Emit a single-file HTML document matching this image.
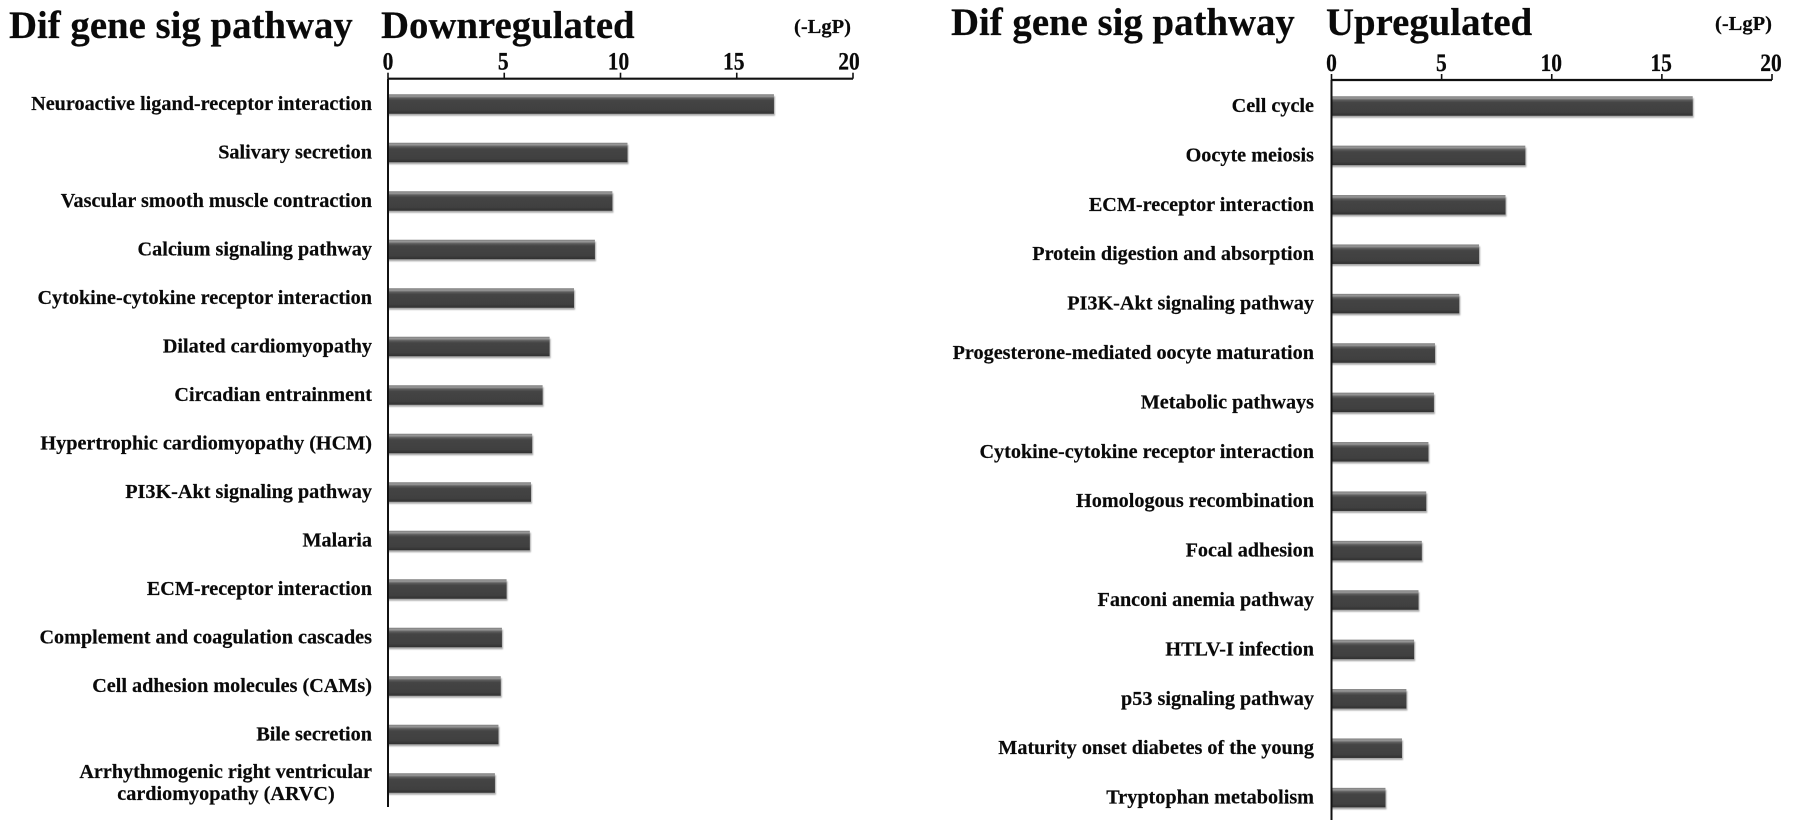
<!DOCTYPE html>
<html lang="en">
<head>
<meta charset="utf-8">
<title>Dif gene sig pathway</title>
<style>
  html, body { margin: 0; padding: 0; background: #fff; }
  #stage { display: block; width: 1795px; height: 833px; }
  text { font-family: "Liberation Serif", serif; font-weight: bold; fill: #0a0a0a; stroke: #0a0a0a; stroke-width: 0.2px; }
</style>
</head>
<body>
<svg id="stage" xmlns="http://www.w3.org/2000/svg" width="1795" height="833" viewBox="0 0 1795 833">
  <defs>
    <linearGradient id="barFill" x1="0" y1="0" x2="0" y2="1">
      <stop offset="0" stop-color="#7d7d7d"/>
      <stop offset="0.1" stop-color="#999999"/>
      <stop offset="0.2" stop-color="#5c5c5c"/>
      <stop offset="0.32" stop-color="#444444"/>
      <stop offset="0.82" stop-color="#404040"/>
      <stop offset="1" stop-color="#303030"/>
    </linearGradient>
    <filter id="soft" x="-2%" y="-30%" width="104%" height="170%">
      <feGaussianBlur stdDeviation="0.7"/>
    </filter>
  </defs>
  <g id="leftPanel"></g>
  <g id="rightPanel"></g>
</svg>
<script>
const tickValues = [0, 5, 10, 15, 20];

const downCategories = [
  "Neuroactive ligand-receptor interaction", "Salivary secretion",
  "Vascular smooth muscle contraction", "Calcium signaling pathway",
  "Cytokine-cytokine receptor interaction", "Dilated cardiomyopathy",
  "Circadian entrainment", "Hypertrophic cardiomyopathy (HCM)",
  "PI3K-Akt signaling pathway", "Malaria", "ECM-receptor interaction",
  "Complement and coagulation cascades", "Cell adhesion molecules (CAMs)",
  "Bile secretion", "Arrhythmogenic right ventricular|cardiomyopathy (ARVC)"
];
const downValues = [16.6, 10.3, 9.65, 8.9, 8.0, 6.95, 6.65, 6.2, 6.15, 6.1, 5.1, 4.9, 4.85, 4.75, 4.6];

const upCategories = [
  "Cell cycle", "Oocyte meiosis", "ECM-receptor interaction",
  "Protein digestion and absorption", "PI3K-Akt signaling pathway",
  "Progesterone-mediated oocyte maturation", "Metabolic pathways",
  "Cytokine-cytokine receptor interaction", "Homologous recombination",
  "Focal adhesion", "Fanconi anemia pathway", "HTLV-I infection",
  "p53 signaling pathway", "Maturity onset diabetes of the young",
  "Tryptophan metabolism"
];
const upValues = [16.4, 8.8, 7.9, 6.7, 5.8, 4.7, 4.65, 4.4, 4.3, 4.1, 3.95, 3.75, 3.4, 3.2, 2.45];

const NS = "http://www.w3.org/2000/svg";

function make(tag, attrs, parent, content) {
  const el = document.createElementNS(NS, tag);
  for (const k in attrs) el.setAttribute(k, attrs[k]);
  if (content !== undefined) el.textContent = content;
  parent.appendChild(el);
  return el;
}

function slug(s) {
  return s.toLowerCase().replace(/[^a-z0-9]+/g, "-").replace(/^-|-$/g, "");
}

function drawPanel(root, cfg, categories, values) {
  const maxTick = tickValues[tickValues.length - 1];
  const xScale = v => cfg.x0 + (v / maxTick) * (cfg.x1 - cfg.x0);
  const yScale = i => cfg.firstY + i * cfg.stepY;

  const title = make("text", { x: cfg.titleX, y: cfg.titleY, "font-size": 38.8 }, root, "Dif gene sig pathway");
  
  

  const sub = make("text", { x: cfg.subX, y: cfg.titleY, "font-size": 38.8 }, root, cfg.subtitle);
  
  

  const unit = make("text", { x: cfg.unitX, y: cfg.unitY, "font-size": 20.5 }, root, "(-LgP)");
  
  

  values.forEach((v, i) => {
    const yc = yScale(i);
    const h = 19.5;
    const shadow = make("rect", {
      x: xScale(0), y: yc - h / 2 + 2, width: xScale(v) - xScale(0) + 1, height: h,
      fill: "#a8a8a8", filter: "url(#soft)"
    }, root);
    
    

    const bar = make("rect", {
      x: xScale(0), y: yc - h / 2, width: xScale(v) - xScale(0), height: h,
      fill: "url(#barFill)"
    }, root);
    
    

    const lines = categories[i].split("|");
    if (lines.length === 1) {
      const t = make("text", {
        x: cfg.labelX, y: yc + cfg.labelDy, "text-anchor": "end", "font-size": cfg.labelSize
      }, root, lines[0]);
      
      
    } else {
      const t1 = make("text", {
        x: cfg.labelX, y: yc - 5, "text-anchor": "end", "font-size": cfg.labelSize
      }, root, lines[0]);
      
      
      const t2 = make("text", {
        x: cfg.labelX - 146, y: yc + 17, "text-anchor": "middle", "font-size": cfg.labelSize
      }, root, lines[1]);
      
      
    }
  });

  const xAxis = make("line", {
    x1: xScale(0), x2: xScale(maxTick), y1: cfg.axisY, y2: cfg.axisY,
    stroke: "#111", "stroke-width": 2.2
  }, root);
  
  

  const yAxis = make("line", {
    x1: xScale(0), x2: xScale(0), y1: cfg.axisY, y2: cfg.axisBottom,
    stroke: "#111", "stroke-width": 2
  }, root);
  
  

  tickValues.forEach(v => {
    const tick = make("line", {
      x1: xScale(v), x2: xScale(v), y1: cfg.axisY - 6, y2: cfg.axisY,
      stroke: "#111", "stroke-width": 1.6
    }, root);
    
    

    const lx = xScale(v) - (v / maxTick) * cfg.tickLabelInset;
    const ly = cfg.axisY - 9;
    const lab = make("text", {
      x: 0, y: 0, "text-anchor": "middle", "font-size": 21.5,
      transform: "translate(" + lx + " " + ly + ") scale(1 1.16)"
    }, root, String(v));
    
    
  });
}

drawPanel(document.getElementById("leftPanel"), {
  subtitle: "Downregulated",
  x0: 388, x1: 853, axisY: 78.7, axisBottom: 807,
  firstY: 104, stepY: 48.5, tickLabelInset: 4,
  titleX: 9, subX: 381, titleY: 38, unitX: 794, unitY: 33,
  labelX: 372, labelDy: 6, labelSize: 20.2
}, downCategories, downValues);

drawPanel(document.getElementById("rightPanel"), {
  subtitle: "Upregulated",
  x0: 1331.5, x1: 1772, axisY: 80, axisBottom: 820,
  firstY: 106, stepY: 49.4, tickLabelInset: 1,
  titleX: 951, subX: 1326, titleY: 35, unitX: 1715, unitY: 30,
  labelX: 1314, labelDy: 6, labelSize: 20.2
}, upCategories, upValues);
</script>
</body>
</html>
